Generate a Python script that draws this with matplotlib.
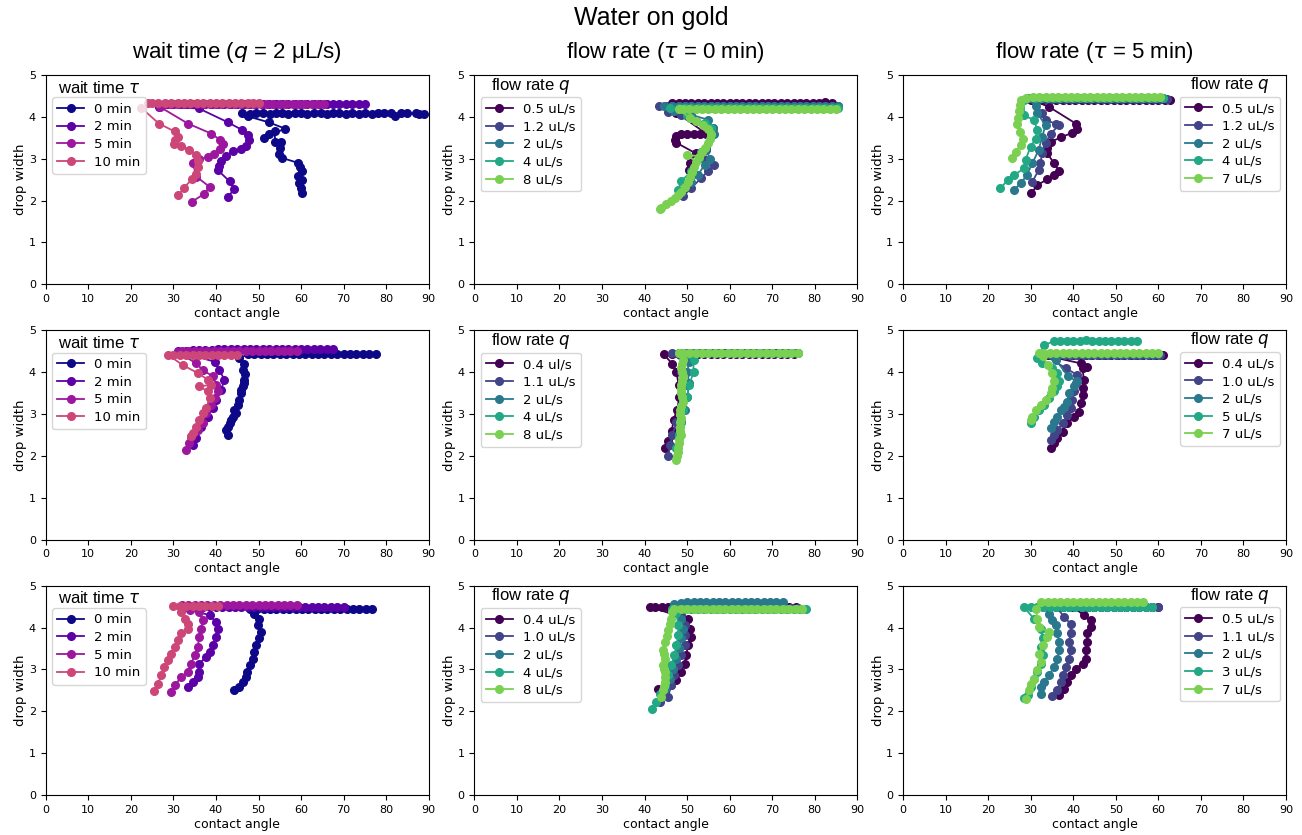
import numpy as np
import matplotlib
matplotlib.use('Agg')
import matplotlib.pyplot as plt
from matplotlib import cm

# contact angle vs drop width traces
# ---------------- row 1 ----------------
wait_labels = ['0 min', '2 min', '5 min', '10 min']

r1_wait_0 = [(88.9, 4.06), (87.6, 4.07), (86.9, 4.08), (85.0, 4.08), (83.5, 4.10), (82.0, 4.02), (81.2, 4.10),
             (79.6, 4.08), (78.0, 4.08), (76.6, 4.07), (75.0, 4.08), (73.6, 4.07), (72.0, 4.08), (70.5, 4.07),
             (69.0, 4.08), (67.6, 4.08), (66.0, 4.07), (64.6, 4.08), (63.0, 4.08), (61.5, 4.07), (60.0, 4.08),
             (58.6, 4.08), (57.0, 4.07), (55.5, 4.08), (54.0, 4.08), (52.6, 4.07), (51.0, 4.08), (49.5, 4.08),
             (48.0, 4.07), (46.2, 4.08), (47.6, 4.01), (52.4, 3.87), (56.2, 3.72), (51.2, 3.49), (52.5, 3.58),
             (53.8, 3.65), (53.9, 3.41), (55.3, 3.39), (55.1, 3.26), (54.7, 3.11), (55.5, 3.02), (59.3, 2.90),
             (59.7, 2.79), (60.3, 2.70), (59.3, 2.59), (60.3, 2.50), (59.4, 2.43), (60.0, 2.31), (60.3, 2.19)]
r1_wait_2 = [(75.0, 4.31), (73.5, 4.31), (72.0, 4.31), (70.5, 4.31), (69.0, 4.31), (67.5, 4.31), (66.0, 4.31),
             (64.5, 4.31), (63.0, 4.31), (61.5, 4.31), (60.0, 4.31), (58.5, 4.31), (57.0, 4.31), (55.5, 4.31),
             (54.0, 4.31), (52.5, 4.31), (51.0, 4.31), (49.5, 4.31), (48.0, 4.30), (46.5, 4.31), (45.0, 4.31),
             (43.5, 4.31), (42.0, 4.31), (40.5, 4.31), (39.0, 4.30), (37.5, 4.31), (36.0, 4.31), (34.5, 4.31),
             (33.0, 4.31), (31.5, 4.31), (30.0, 4.31), (28.5, 4.30), (26.6, 4.24), (36.0, 4.20), (42.8, 3.87),
             (46.1, 3.69), (47.5, 3.56), (47.7, 3.44), (47.1, 3.31), (45.9, 3.23), (43.9, 3.18), (42.4, 3.07),
             (41.2, 2.95), (40.7, 2.83), (40.4, 2.73), (43.2, 2.46), (44.3, 2.27), (42.8, 2.09)]
r1_wait_5 = [(65.5, 4.31), (64.0, 4.31), (62.5, 4.31), (61.0, 4.31), (59.5, 4.31), (58.0, 4.31), (56.5, 4.31),
             (55.0, 4.31), (53.5, 4.31), (52.0, 4.31), (50.5, 4.31), (49.0, 4.31), (47.5, 4.31), (46.0, 4.30),
             (44.5, 4.31), (43.0, 4.31), (41.5, 4.31), (40.0, 4.31), (38.5, 4.31), (37.0, 4.31), (35.5, 4.31),
             (34.0, 4.30), (32.5, 4.31), (31.0, 4.31), (29.5, 4.31), (28.0, 4.31), (26.8, 4.24), (33.4, 3.84),
             (38.9, 3.60), (41.0, 3.45), (41.6, 3.35), (41.0, 3.23), (39.6, 3.11), (38.1, 3.03), (36.0, 2.99),
             (34.6, 2.89), (35.4, 2.57), (38.5, 2.33), (37.1, 2.15), (34.3, 1.97)]
r1_wait_10 = [(50.0, 4.34), (48.8, 4.33), (47.5, 4.34), (46.0, 4.33), (44.5, 4.33), (43.0, 4.33), (41.5, 4.34),
              (40.0, 4.33), (38.5, 4.33), (37.0, 4.33), (35.5, 4.33), (34.0, 4.33), (32.5, 4.33), (31.0, 4.33),
              (29.5, 4.33), (28.0, 4.33), (26.5, 4.33), (25.0, 4.33), (24.0, 4.33), (22.5, 4.21), (26.6, 3.84),
              (30.3, 3.65), (31.1, 3.53), (30.4, 3.44), (30.1, 3.34), (31.8, 3.31), (33.6, 3.21), (35.2, 3.10),
              (35.8, 2.95), (35.9, 2.81), (35.4, 2.63), (34.4, 2.51), (32.5, 2.31), (31.2, 2.13)]

r1_flow0_labels = ['0.5 uL/s', '1.2 uL/s', '2 uL/s', '4 uL/s', '8 uL/s']
r1_flow0_05 = [(84.0, 4.33), (82.5, 4.35), (81.0, 4.33), (79.5, 4.33), (78.0, 4.33), (76.5, 4.33), (75.0, 4.33),
               (73.5, 4.33), (72.0, 4.33), (70.5, 4.33), (69.0, 4.33), (67.5, 4.33), (66.0, 4.33), (64.5, 4.33),
               (63.0, 4.33), (61.5, 4.33), (60.0, 4.33), (58.5, 4.33), (57.0, 4.33), (55.5, 4.33), (54.0, 4.33),
               (52.5, 4.33), (51.0, 4.33), (49.5, 4.33), (48.0, 4.33), (46.5, 4.33), (47.5, 4.10), (54.5, 3.60),
               (53.0, 3.60), (51.5, 3.60), (50.0, 3.60), (48.5, 3.60), (47.5, 3.55), (47.2, 3.45), (47.5, 3.38),
               (52.0, 3.13), (50.6, 2.90), (51.0, 2.80), (50.4, 2.72)]
r1_flow0_12 = [(85.5, 4.27), (84.0, 4.27), (82.5, 4.27), (81.0, 4.27), (79.5, 4.27), (78.0, 4.27), (76.5, 4.27),
               (75.0, 4.27), (73.5, 4.27), (72.0, 4.27), (70.5, 4.27), (69.0, 4.27), (67.5, 4.27), (66.0, 4.27),
               (64.5, 4.27), (63.0, 4.27), (61.5, 4.27), (60.0, 4.27), (58.5, 4.27), (57.0, 4.27), (55.5, 4.27),
               (54.0, 4.27), (52.5, 4.27), (51.0, 4.27), (49.5, 4.27), (48.0, 4.27), (46.5, 4.27), (45.0, 4.27),
               (43.5, 4.27), (45.5, 4.12), (48.5, 4.05), (52.0, 3.90), (56.0, 3.73), (56.0, 3.61), (54.5, 3.21),
               (54.0, 3.00), (56.4, 2.86), (54.9, 2.70), (53.3, 2.54), (51.0, 2.30), (49.0, 2.10)]
r1_flow0_2 = [(85.5, 4.25), (84.0, 4.25), (82.5, 4.25), (81.0, 4.25), (79.5, 4.25), (78.0, 4.25), (76.5, 4.25),
              (75.0, 4.25), (73.5, 4.25), (72.0, 4.25), (70.5, 4.25), (69.0, 4.25), (67.5, 4.25), (66.0, 4.25),
              (64.5, 4.25), (63.0, 4.25), (61.5, 4.25), (60.0, 4.25), (58.5, 4.25), (57.0, 4.25), (55.5, 4.25),
              (54.0, 4.25), (52.5, 4.25), (51.0, 4.25), (49.5, 4.25), (48.0, 4.25), (46.5, 4.25), (44.5, 4.25),
              (47.0, 4.15), (51.0, 4.05), (54.9, 3.93), (56.0, 3.73), (56.3, 3.60), (54.5, 3.25), (55.3, 3.00),
              (54.1, 2.85), (52.5, 2.61), (51.0, 2.45), (48.6, 2.22)]
r1_flow0_4 = [(85.5, 4.22), (84.0, 4.22), (82.5, 4.22), (81.0, 4.22), (79.5, 4.22), (78.0, 4.22), (76.5, 4.22),
              (75.0, 4.22), (73.5, 4.22), (72.0, 4.22), (70.5, 4.22), (69.0, 4.22), (67.5, 4.22), (66.0, 4.22),
              (64.5, 4.22), (63.0, 4.22), (61.5, 4.22), (60.0, 4.22), (58.5, 4.22), (57.0, 4.22), (55.5, 4.22),
              (54.0, 4.22), (52.5, 4.22), (51.0, 4.22), (49.5, 4.22), (48.0, 4.22), (46.0, 4.22), (50.0, 4.05),
              (54.1, 3.85), (55.7, 3.73), (55.7, 3.57), (53.3, 3.17), (52.9, 3.01), (51.0, 2.70), (48.6, 2.46),
              (47.9, 2.26)]
r1_flow0_8 = [(85.0, 4.19), (83.5, 4.19), (82.0, 4.19), (80.5, 4.19), (79.0, 4.19), (77.5, 4.19), (76.0, 4.19),
              (74.5, 4.19), (73.0, 4.19), (71.5, 4.19), (70.0, 4.19), (68.5, 4.19), (67.0, 4.19), (65.5, 4.19),
              (64.0, 4.19), (62.5, 4.19), (61.0, 4.19), (59.5, 4.19), (58.0, 4.19), (56.5, 4.19), (55.0, 4.19),
              (53.5, 4.19), (52.0, 4.19), (50.5, 4.19), (49.0, 4.19), (48.0, 4.19), (50.6, 3.98), (52.2, 3.90),
              (53.8, 3.80), (55.0, 3.72), (55.6, 3.60), (55.4, 3.48), (54.8, 3.37), (54.1, 3.26), (53.5, 3.15),
              (52.9, 3.05), (50.0, 3.10), (52.1, 2.92), (51.7, 2.80), (51.2, 2.69), (50.7, 2.57), (50.2, 2.45),
              (49.4, 2.33), (48.6, 2.21), (47.9, 2.13), (47.1, 2.06), (46.1, 2.00), (45.1, 1.92), (43.9, 1.83),
              (43.6, 1.79)]

r1_flow5_labels = ['0.5 uL/s', '1.2 uL/s', '2 uL/s', '4 uL/s', '7 uL/s']
r1_flow5_05 = [(62.8, 4.41), (61.5, 4.41), (60.0, 4.41), (58.5, 4.41), (57.0, 4.41), (55.5, 4.41), (54.0, 4.41),
               (52.5, 4.41), (51.0, 4.41), (49.5, 4.41), (48.0, 4.41), (46.5, 4.41), (45.0, 4.41), (43.5, 4.41),
               (42.0, 4.41), (40.5, 4.41), (39.0, 4.41), (37.5, 4.41), (36.0, 4.41), (34.5, 4.41), (33.0, 4.41),
               (31.5, 4.41), (30.0, 4.41), (34.3, 4.24), (40.6, 3.84), (41.0, 3.72), (39.8, 3.62), (37.1, 3.51),
               (34.7, 3.40), (33.9, 3.25), (33.9, 3.13), (35.5, 2.89), (36.7, 2.71), (35.5, 2.61), (33.9, 2.51),
               (31.6, 2.37), (30.1, 2.17)]
r1_flow5_12 = [(62.0, 4.43), (60.5, 4.43), (59.0, 4.43), (57.5, 4.43), (56.0, 4.43), (54.5, 4.43), (53.0, 4.43),
               (51.5, 4.43), (50.0, 4.43), (48.5, 4.43), (47.0, 4.43), (45.5, 4.43), (44.0, 4.43), (42.5, 4.43),
               (41.0, 4.43), (39.5, 4.43), (38.0, 4.43), (36.5, 4.43), (35.0, 4.43), (33.5, 4.43), (32.0, 4.43),
               (30.5, 4.43), (32.7, 4.08), (33.5, 3.92), (35.9, 3.84), (36.7, 3.80), (34.7, 3.60), (33.5, 3.37),
               (32.7, 3.13), (32.3, 2.89), (31.9, 2.73), (30.4, 2.45)]
r1_flow5_2 = [(61.0, 4.44), (59.5, 4.44), (58.0, 4.44), (56.5, 4.44), (55.0, 4.44), (53.5, 4.44), (52.0, 4.44),
              (50.5, 4.44), (49.0, 4.44), (47.5, 4.44), (46.0, 4.44), (44.5, 4.44), (43.0, 4.44), (41.5, 4.44),
              (40.0, 4.44), (38.5, 4.44), (37.0, 4.44), (35.5, 4.44), (34.0, 4.44), (32.5, 4.44), (31.0, 4.44),
              (29.5, 4.44), (31.2, 4.26), (31.6, 4.08), (33.5, 3.80), (32.7, 3.52), (31.9, 3.21), (30.4, 2.89),
              (29.1, 2.61), (27.7, 2.41), (26.0, 2.25)]
r1_flow5_4 = [(61.0, 4.44), (59.5, 4.44), (58.0, 4.44), (56.5, 4.44), (55.0, 4.44), (53.5, 4.44), (52.0, 4.44),
              (50.5, 4.44), (49.0, 4.44), (47.5, 4.44), (46.0, 4.44), (44.5, 4.44), (43.0, 4.44), (41.5, 4.44),
              (40.0, 4.44), (38.5, 4.44), (37.0, 4.44), (35.5, 4.44), (34.0, 4.44), (32.5, 4.44), (31.0, 4.44),
              (29.5, 4.44), (28.5, 4.40), (28.4, 4.04), (30.8, 3.92), (31.6, 3.68), (31.2, 3.48), (30.0, 3.29),
              (28.8, 2.97), (28.5, 2.77), (26.1, 2.61), (24.6, 2.49), (22.9, 2.29)]
r1_flow5_7 = [(60.5, 4.47), (59.0, 4.47), (57.5, 4.48), (56.0, 4.47), (54.5, 4.47), (53.0, 4.47), (51.5, 4.47),
              (50.0, 4.47), (48.5, 4.48), (47.0, 4.47), (45.5, 4.47), (44.0, 4.47), (42.5, 4.47), (41.0, 4.47),
              (39.5, 4.47), (38.0, 4.47), (36.5, 4.47), (35.0, 4.47), (33.5, 4.47), (32.0, 4.47), (30.5, 4.47),
              (29.0, 4.46), (27.8, 4.40), (27.4, 4.28), (27.3, 4.14), (27.0, 3.98), (26.9, 3.84), (27.5, 3.64),
              (28.1, 3.48), (27.7, 3.33), (26.5, 3.17), (25.7, 3.01)]

# ---------------- row 2 ----------------
r2_wait_0 = [(77.5, 4.43), (76.0, 4.43), (74.5, 4.43), (73.0, 4.43), (71.5, 4.43), (70.0, 4.43), (68.5, 4.43),
             (67.0, 4.43), (65.5, 4.43), (64.0, 4.43), (62.5, 4.43), (61.0, 4.43), (59.5, 4.43), (58.0, 4.43),
             (56.5, 4.43), (55.0, 4.43), (53.5, 4.43), (52.0, 4.43), (50.5, 4.43), (49.0, 4.43), (47.5, 4.43),
             (45.5, 4.33), (46.6, 4.20), (46.3, 4.05), (46.8, 3.95), (46.7, 3.82), (46.5, 3.75), (46.3, 3.66),
             (46.0, 3.58), (45.9, 3.50), (45.5, 3.34), (45.2, 3.22), (44.3, 3.10), (44.6, 3.02), (43.9, 2.94),
             (43.6, 2.86), (43.2, 2.78), (42.8, 2.70), (42.4, 2.62), (42.8, 2.50)]
r2_wait_2 = [(67.5, 4.55), (66.0, 4.55), (64.5, 4.55), (63.0, 4.55), (61.5, 4.55), (60.0, 4.55), (58.5, 4.55),
             (57.0, 4.55), (55.5, 4.55), (54.0, 4.55), (52.5, 4.55), (51.0, 4.55), (49.5, 4.55), (48.0, 4.55),
             (46.5, 4.55), (45.0, 4.55), (43.5, 4.55), (42.0, 4.55), (40.5, 4.55), (39.0, 4.54), (37.5, 4.54),
             (36.0, 4.53), (34.5, 4.52), (33.0, 4.51), (31.0, 4.50), (39.7, 4.25), (40.8, 4.05), (42.0, 3.82),
             (41.2, 3.58), (40.1, 3.34), (39.3, 3.14), (38.1, 2.94), (36.5, 2.70), (35.4, 2.42), (34.6, 2.27)]
r2_wait_5 = [(59.0, 4.50), (57.5, 4.50), (56.0, 4.50), (54.5, 4.50), (53.0, 4.50), (51.5, 4.50), (50.0, 4.50),
             (48.5, 4.50), (47.0, 4.50), (45.5, 4.50), (44.0, 4.50), (42.5, 4.50), (41.0, 4.50), (39.5, 4.50),
             (38.0, 4.50), (36.5, 4.50), (35.0, 4.50), (33.5, 4.50), (32.0, 4.50), (31.0, 4.48), (35.4, 4.21),
             (36.9, 4.05), (39.3, 3.90), (40.1, 3.70), (40.5, 3.54), (39.7, 3.38), (38.9, 3.22), (37.7, 3.02),
             (36.9, 2.78), (35.7, 2.62), (34.2, 2.46), (33.6, 2.31), (33.0, 2.13)]
r2_wait_10 = [(45.0, 4.42), (43.5, 4.42), (42.0, 4.42), (40.5, 4.42), (39.0, 4.42), (37.5, 4.42), (36.0, 4.42),
              (34.5, 4.42), (33.0, 4.42), (31.5, 4.42), (30.0, 4.42), (28.7, 4.42), (32.2, 4.17), (35.9, 3.97),
              (38.1, 3.82), (38.9, 3.70), (36.1, 3.66), (38.1, 3.54), (38.5, 3.38), (37.7, 3.14), (36.9, 3.02),
              (36.1, 2.86), (35.4, 2.70), (34.6, 2.54), (34.2, 2.48)]

r2_flow0_labels = ['0.4 ul/s', '1.1 uL/s', '2 uL/s', '4 uL/s', '8 uL/s']
r2_flow0_04 = [(75.0, 4.43), (73.5, 4.43), (72.0, 4.43), (70.5, 4.43), (69.0, 4.43), (67.5, 4.43), (66.0, 4.43),
               (64.5, 4.43), (63.0, 4.43), (61.5, 4.43), (60.0, 4.43), (58.5, 4.43), (57.0, 4.43), (55.5, 4.43),
               (54.0, 4.43), (52.5, 4.43), (51.0, 4.43), (49.5, 4.43), (48.0, 4.43), (46.5, 4.43), (44.5, 4.43),
               (46.5, 4.20), (47.5, 4.00), (48.0, 3.70), (48.2, 3.40), (47.6, 3.10), (46.8, 2.85), (46.4, 2.60),
               (45.5, 2.35), (44.7, 2.20)]
r2_flow0_11 = [(75.5, 4.45), (74.0, 4.45), (72.5, 4.45), (71.0, 4.45), (69.5, 4.45), (68.0, 4.45), (66.5, 4.45),
               (65.0, 4.45), (63.5, 4.45), (62.0, 4.45), (60.5, 4.45), (59.0, 4.45), (57.5, 4.45), (56.0, 4.45),
               (54.5, 4.45), (53.0, 4.45), (51.5, 4.45), (50.0, 4.45), (48.5, 4.45), (46.5, 4.45), (49.0, 4.25),
               (48.5, 4.00), (49.5, 3.70), (49.3, 3.40), (48.5, 3.10), (47.5, 2.80), (46.5, 2.50), (46.0, 2.25),
               (45.6, 2.00)]
r2_flow0_2 = [(76.0, 4.46), (74.5, 4.46), (73.0, 4.46), (71.5, 4.46), (70.0, 4.46), (68.5, 4.46), (67.0, 4.46),
              (65.5, 4.46), (64.0, 4.46), (62.5, 4.46), (61.0, 4.46), (59.5, 4.46), (58.0, 4.46), (56.5, 4.46),
              (55.0, 4.46), (53.5, 4.46), (52.0, 4.46), (50.5, 4.46), (49.0, 4.46), (48.0, 4.46), (50.5, 4.25),
              (50.0, 4.00), (50.5, 3.75), (50.0, 3.40), (49.5, 3.10), (48.5, 2.80), (48.0, 2.50), (47.5, 2.20)]
r2_flow0_4 = [(76.0, 4.45), (74.5, 4.45), (73.0, 4.45), (71.5, 4.45), (70.0, 4.45), (68.5, 4.45), (67.0, 4.45),
              (65.5, 4.45), (64.0, 4.45), (62.5, 4.45), (61.0, 4.45), (59.5, 4.45), (58.0, 4.45), (56.5, 4.45),
              (55.0, 4.45), (53.5, 4.45), (52.0, 4.45), (50.5, 4.45), (49.0, 4.45), (48.0, 4.45), (51.5, 4.30),
              (51.5, 4.00), (50.5, 3.70), (50.0, 3.40), (49.0, 3.10), (48.5, 2.80), (48.0, 2.50), (47.5, 2.20)]
r2_flow0_8 = [(76.0, 4.45), (74.5, 4.45), (73.0, 4.45), (71.5, 4.45), (70.0, 4.45), (68.5, 4.45), (67.0, 4.45),
              (65.5, 4.45), (64.0, 4.45), (62.5, 4.45), (61.0, 4.45), (59.5, 4.45), (58.0, 4.45), (56.5, 4.45),
              (55.0, 4.45), (53.5, 4.45), (52.0, 4.45), (50.5, 4.45), (49.0, 4.45), (48.0, 4.45), (49.0, 4.30),
              (48.8, 4.20), (48.5, 4.10), (48.7, 4.00), (49.0, 3.90), (48.8, 3.80), (48.5, 3.70), (48.6, 3.60),
              (48.5, 3.50), (48.8, 3.40), (49.0, 3.30), (48.6, 3.20), (48.3, 3.10), (48.4, 3.00), (48.5, 2.90),
              (48.4, 2.80), (48.3, 2.70), (48.4, 2.60), (48.5, 2.50), (48.2, 2.40), (48.0, 2.30), (47.9, 2.20),
              (47.8, 2.10), (47.6, 2.00), (47.3, 1.90)]

r2_flow5_labels = ['0.4 uL/s', '1.0 uL/s', '2 uL/s', '5 uL/s', '7 uL/s']
r2_flow5_04 = [(61.0, 4.41), (59.5, 4.41), (58.0, 4.41), (56.5, 4.41), (55.0, 4.41), (53.5, 4.41), (52.0, 4.41),
               (50.5, 4.41), (49.0, 4.41), (47.5, 4.41), (46.0, 4.41), (44.5, 4.41), (43.0, 4.41), (41.5, 4.41),
               (40.0, 4.41), (38.5, 4.41), (37.0, 4.41), (35.5, 4.41), (34.0, 4.41), (33.0, 4.41), (41.8, 4.21),
               (43.3, 4.13), (42.2, 4.09), (42.5, 3.82), (42.4, 3.62), (42.4, 3.46), (41.8, 3.26), (41.4, 3.06),
               (40.2, 2.94), (38.6, 2.78), (37.5, 2.58), (36.3, 2.42), (35.5, 2.32), (34.7, 2.19)]
r2_flow5_10 = [(60.5, 4.42), (59.0, 4.42), (57.5, 4.42), (56.0, 4.42), (54.5, 4.42), (53.0, 4.42), (51.5, 4.42),
               (50.0, 4.42), (48.5, 4.42), (47.0, 4.42), (45.5, 4.42), (44.0, 4.42), (42.5, 4.42), (41.0, 4.42),
               (39.5, 4.42), (38.0, 4.42), (36.5, 4.42), (35.0, 4.42), (33.0, 4.42), (38.2, 4.10), (41.0, 3.93),
               (40.6, 3.74), (40.2, 3.54), (39.8, 3.34), (39.4, 3.14), (38.6, 2.98), (37.5, 2.78), (36.3, 2.62),
               (35.5, 2.50), (34.7, 2.38)]
r2_flow5_2 = [(60.0, 4.43), (58.5, 4.43), (57.0, 4.43), (55.5, 4.43), (54.0, 4.43), (52.5, 4.43), (51.0, 4.43),
              (49.5, 4.43), (48.0, 4.43), (46.5, 4.43), (45.0, 4.43), (43.5, 4.43), (42.0, 4.43), (40.5, 4.43),
              (39.0, 4.43), (37.5, 4.43), (36.0, 4.43), (34.5, 4.43), (33.0, 4.43), (35.9, 4.30), (38.8, 3.90),
              (40.9, 3.78), (40.2, 3.66), (39.0, 3.50), (38.6, 3.30), (37.9, 3.18), (37.1, 3.10), (36.3, 2.94),
              (35.5, 2.82), (34.7, 2.66)]
r2_flow5_5 = [(55.0, 4.75), (53.5, 4.75), (52.0, 4.75), (50.5, 4.75), (49.0, 4.75), (47.5, 4.75), (46.0, 4.75),
              (44.5, 4.75), (43.0, 4.76), (41.5, 4.75), (40.0, 4.75), (38.5, 4.75), (37.0, 4.74), (35.5, 4.74),
              (33.2, 4.65), (31.6, 4.33), (32.7, 4.21), (35.1, 4.09), (36.3, 3.98), (36.7, 3.78), (36.3, 3.66),
              (35.5, 3.54), (34.3, 3.38), (33.2, 3.22), (32.0, 3.10), (30.8, 2.94), (30.1, 2.78)]
r2_flow5_7 = [(60.0, 4.47), (58.5, 4.47), (57.0, 4.47), (55.5, 4.47), (54.0, 4.47), (52.5, 4.47), (51.0, 4.47),
              (49.5, 4.47), (48.0, 4.47), (46.5, 4.47), (45.0, 4.47), (43.5, 4.47), (42.0, 4.47), (40.5, 4.47),
              (39.0, 4.47), (37.5, 4.47), (36.0, 4.47), (34.5, 4.47), (33.0, 4.47), (32.0, 4.47), (32.8, 4.39),
              (34.0, 4.17), (35.1, 3.98), (35.5, 3.78), (35.1, 3.62), (34.7, 3.50), (33.6, 3.34), (32.4, 3.22),
              (31.2, 3.10), (30.4, 2.94), (30.1, 2.86)]

# ---------------- row 3 ----------------
r3_wait_0 = [(76.7, 4.45), (75.2, 4.45), (73.7, 4.45), (72.2, 4.45), (70.7, 4.45), (69.2, 4.45), (67.7, 4.45),
             (66.2, 4.45), (64.7, 4.45), (63.2, 4.45), (61.7, 4.45), (60.2, 4.45), (58.7, 4.45), (57.2, 4.45),
             (55.7, 4.45), (54.2, 4.45), (52.7, 4.45), (51.2, 4.45), (49.7, 4.45), (48.0, 4.45), (49.0, 4.33),
             (50.2, 4.21), (49.8, 4.05), (50.6, 3.90), (50.2, 3.74), (49.4, 3.58), (49.0, 3.42), (48.6, 3.26),
             (47.9, 3.10), (47.4, 2.94), (47.0, 2.82), (46.3, 2.70), (45.5, 2.58), (44.3, 2.50)]
r3_wait_2 = [(70.0, 4.48), (68.5, 4.48), (67.0, 4.48), (65.5, 4.48), (64.0, 4.48), (62.5, 4.48), (61.0, 4.48),
             (59.5, 4.48), (58.0, 4.48), (56.5, 4.48), (55.0, 4.48), (53.5, 4.48), (52.0, 4.48), (50.5, 4.48),
             (49.0, 4.48), (47.5, 4.48), (46.0, 4.48), (44.5, 4.48), (43.0, 4.48), (41.5, 4.48), (40.0, 4.48),
             (38.5, 4.48), (37.0, 4.48), (35.5, 4.48), (34.0, 4.48), (33.0, 4.48), (38.5, 4.29), (40.0, 4.13),
             (40.4, 3.97), (40.0, 3.78), (39.3, 3.58), (38.5, 3.42), (37.7, 3.30), (36.1, 3.14), (36.1, 2.94),
             (35.7, 2.82), (34.6, 2.70), (33.4, 2.58)]
r3_wait_5 = [(59.0, 4.55), (57.5, 4.55), (56.0, 4.55), (54.5, 4.55), (53.0, 4.55), (51.5, 4.55), (50.0, 4.55),
             (48.5, 4.55), (47.0, 4.55), (45.5, 4.55), (44.0, 4.55), (42.5, 4.55), (41.0, 4.55), (39.5, 4.55),
             (38.0, 4.55), (36.5, 4.55), (35.0, 4.55), (33.5, 4.55), (32.0, 4.55), (33.8, 4.41), (36.1, 4.37),
             (36.9, 4.17), (36.5, 3.97), (36.1, 3.78), (35.7, 3.54), (35.0, 3.34), (34.2, 3.14), (33.4, 2.94),
             (31.9, 2.82), (30.3, 2.62), (29.5, 2.45)]
r3_wait_10 = [(40.5, 4.52), (39.0, 4.52), (37.5, 4.52), (36.0, 4.52), (34.5, 4.52), (33.0, 4.52), (31.5, 4.52),
              (30.0, 4.52), (31.9, 4.37), (32.7, 4.21), (33.4, 4.09), (33.4, 3.97), (31.9, 3.86), (31.1, 3.70),
              (30.3, 3.54), (29.5, 3.38), (28.7, 3.22), (27.9, 3.06), (27.2, 2.86), (26.4, 2.66), (25.4, 2.48)]

r3_flow0_labels = ['0.4 uL/s', '1.0 uL/s', '2 uL/s', '4 uL/s', '8 uL/s']
r3_flow0_04 = [(75.5, 4.49), (74.0, 4.49), (72.5, 4.49), (71.0, 4.49), (69.5, 4.49), (68.0, 4.49), (66.5, 4.49),
               (65.0, 4.49), (63.5, 4.49), (62.0, 4.49), (60.5, 4.49), (59.0, 4.49), (57.5, 4.49), (56.0, 4.49),
               (54.5, 4.49), (53.0, 4.49), (51.5, 4.49), (50.0, 4.49), (48.5, 4.49), (47.0, 4.49), (45.5, 4.49),
               (44.0, 4.49), (42.5, 4.49), (41.2, 4.49), (50.2, 4.21), (50.6, 3.97), (51.0, 3.78), (50.2, 3.58),
               (49.8, 3.34), (49.4, 3.14), (48.6, 2.94), (47.5, 2.74), (46.3, 2.62), (44.7, 2.50), (43.2, 2.54)]
r3_flow0_10 = [(76.0, 4.47), (74.5, 4.47), (73.0, 4.47), (71.5, 4.47), (70.0, 4.47), (68.5, 4.47), (67.0, 4.47),
               (65.5, 4.47), (64.0, 4.47), (62.5, 4.47), (61.0, 4.47), (59.5, 4.47), (58.0, 4.47), (56.5, 4.47),
               (55.0, 4.47), (53.5, 4.47), (52.0, 4.47), (50.5, 4.47), (49.0, 4.47), (47.0, 4.47), (48.6, 4.29),
               (49.4, 4.05), (49.4, 3.82), (49.4, 3.58), (48.6, 3.34), (47.9, 3.10), (47.0, 2.86), (46.3, 2.62),
               (45.5, 2.35), (43.6, 2.23)]
r3_flow0_2 = [(72.5, 4.60), (71.0, 4.60), (69.5, 4.60), (68.0, 4.60), (66.5, 4.60), (65.0, 4.60), (63.5, 4.60),
              (62.0, 4.60), (60.5, 4.60), (59.0, 4.60), (57.5, 4.60), (56.0, 4.60), (54.5, 4.60), (53.0, 4.60),
              (51.5, 4.60), (50.0, 4.60), (48.5, 4.58), (47.0, 4.56), (47.9, 4.45), (48.6, 4.21), (49.0, 3.97),
              (48.6, 3.74), (48.2, 3.50), (47.5, 3.26), (46.7, 3.02), (45.9, 2.78), (44.7, 2.54), (43.9, 2.38)]
r3_flow0_4 = [(78.0, 4.44), (76.5, 4.44), (75.0, 4.44), (73.5, 4.44), (72.0, 4.44), (70.5, 4.44), (69.0, 4.44),
              (67.5, 4.44), (66.0, 4.44), (64.5, 4.44), (63.0, 4.44), (61.5, 4.44), (60.0, 4.44), (58.5, 4.44),
              (57.0, 4.44), (55.5, 4.44), (54.0, 4.44), (52.5, 4.44), (51.0, 4.44), (49.5, 4.44), (48.0, 4.44),
              (46.5, 4.44), (47.5, 4.34), (47.9, 4.05), (47.9, 3.82), (47.5, 3.58), (47.0, 3.34), (46.3, 3.10),
              (45.5, 2.86), (44.7, 2.62), (43.6, 2.42), (42.8, 2.23), (41.8, 2.05)]
r3_flow0_8 = [(77.0, 4.44), (75.5, 4.44), (74.0, 4.44), (72.5, 4.44), (71.0, 4.44), (69.5, 4.44), (68.0, 4.44),
              (66.5, 4.44), (65.0, 4.44), (63.5, 4.44), (62.0, 4.44), (60.5, 4.44), (59.0, 4.44), (57.5, 4.44),
              (56.0, 4.44), (54.5, 4.44), (53.0, 4.44), (51.5, 4.44), (50.0, 4.44), (48.5, 4.44), (47.0, 4.44),
              (46.5, 4.38), (46.3, 4.21), (45.9, 4.08), (45.5, 3.94), (45.2, 3.80), (44.9, 3.66), (44.3, 3.46),
              (44.5, 3.36), (44.7, 3.26), (44.3, 3.10), (44.6, 3.02), (44.9, 2.94), (44.8, 2.82), (44.7, 2.70),
              (44.5, 2.60), (44.3, 2.50), (43.9, 2.35)]

r3_flow5_labels = ['0.5 uL/s', '1.1 uL/s', '2 uL/s', '3 uL/s', '7 uL/s']
r3_flow5_05 = [(60.0, 4.50), (58.5, 4.50), (57.0, 4.50), (55.5, 4.50), (54.0, 4.50), (52.5, 4.50), (51.0, 4.50),
               (49.5, 4.50), (48.0, 4.50), (46.5, 4.50), (45.0, 4.50), (43.5, 4.50), (42.0, 4.50), (40.0, 4.50),
               (42.5, 4.29), (44.1, 4.17), (44.1, 4.01), (43.3, 3.86), (43.3, 3.66), (42.9, 3.46), (42.9, 3.26),
               (42.2, 3.14), (40.6, 3.02), (39.4, 2.86), (38.6, 2.70), (37.9, 2.54), (36.7, 2.40)]
r3_flow5_11 = [(60.0, 4.50), (58.5, 4.50), (57.0, 4.50), (55.5, 4.50), (54.0, 4.50), (52.5, 4.50), (51.0, 4.50),
               (49.5, 4.50), (48.0, 4.50), (46.5, 4.50), (45.0, 4.50), (43.5, 4.50), (42.0, 4.50), (40.5, 4.50),
               (39.0, 4.50), (37.5, 4.50), (36.0, 4.50), (37.9, 4.25), (39.4, 4.09), (39.4, 3.86), (39.0, 3.66),
               (39.4, 3.46), (39.0, 3.26), (38.3, 3.06), (37.5, 2.86), (37.1, 2.70), (36.3, 2.50), (35.1, 2.37)]
r3_flow5_2 = [(58.5, 4.50), (57.0, 4.50), (55.5, 4.50), (54.0, 4.50), (52.5, 4.50), (51.0, 4.50), (49.5, 4.50),
              (48.0, 4.50), (46.5, 4.50), (45.0, 4.50), (43.5, 4.50), (42.0, 4.50), (40.5, 4.50), (39.0, 4.50),
              (37.5, 4.50), (36.0, 4.50), (34.5, 4.50), (33.0, 4.50), (34.3, 4.33), (35.1, 4.17), (35.9, 4.05),
              (36.3, 3.86), (36.7, 3.66), (36.7, 3.46), (36.3, 3.26), (35.5, 3.06), (34.3, 2.86), (33.2, 2.70),
              (32.4, 2.58), (32.4, 2.42)]
r3_flow5_3 = [(58.5, 4.49), (57.0, 4.49), (55.5, 4.49), (54.0, 4.49), (52.5, 4.49), (51.0, 4.49), (49.5, 4.49),
              (48.0, 4.49), (46.5, 4.49), (45.0, 4.49), (43.5, 4.49), (42.0, 4.49), (40.5, 4.49), (39.0, 4.49),
              (37.5, 4.49), (36.0, 4.49), (34.5, 4.49), (33.0, 4.49), (31.5, 4.49), (30.0, 4.49), (28.5, 4.48),
              (30.8, 4.21), (32.4, 3.97), (32.8, 3.74), (32.4, 3.54), (32.8, 3.34), (32.4, 3.14), (31.6, 2.94),
              (30.8, 2.78), (30.1, 2.58), (29.3, 2.38), (28.5, 2.31)]
r3_flow5_7 = [(56.5, 4.60), (55.0, 4.60), (53.5, 4.60), (52.0, 4.60), (50.5, 4.60), (49.0, 4.60), (47.5, 4.60),
              (46.0, 4.60), (44.5, 4.60), (43.0, 4.60), (41.5, 4.60), (40.0, 4.60), (38.5, 4.60), (37.0, 4.60),
              (35.5, 4.60), (34.0, 4.60), (32.5, 4.60), (31.2, 4.45), (31.6, 4.21), (32.0, 4.01), (34.3, 3.90),
              (33.9, 3.78), (32.8, 3.58), (32.0, 3.38), (32.4, 3.18), (31.6, 2.98), (30.8, 2.78), (30.1, 2.66),
              (29.7, 2.50), (28.9, 2.30)]

col_titles = ['wait time ($q$ = 2 μL/s)', 'flow rate ($\\tau$ = 0 min)', 'flow rate ($\\tau$ = 5 min)']

panels = [
    [(wait_labels, [r1_wait_0, r1_wait_2, r1_wait_5, r1_wait_10]),
     (r1_flow0_labels, [r1_flow0_05, r1_flow0_12, r1_flow0_2, r1_flow0_4, r1_flow0_8]),
     (r1_flow5_labels, [r1_flow5_05, r1_flow5_12, r1_flow5_2, r1_flow5_4, r1_flow5_7])],
    [(wait_labels, [r2_wait_0, r2_wait_2, r2_wait_5, r2_wait_10]),
     (r2_flow0_labels, [r2_flow0_04, r2_flow0_11, r2_flow0_2, r2_flow0_4, r2_flow0_8]),
     (r2_flow5_labels, [r2_flow5_04, r2_flow5_10, r2_flow5_2, r2_flow5_5, r2_flow5_7])],
    [(wait_labels, [r3_wait_0, r3_wait_2, r3_wait_5, r3_wait_10]),
     (r3_flow0_labels, [r3_flow0_04, r3_flow0_10, r3_flow0_2, r3_flow0_4, r3_flow0_8]),
     (r3_flow5_labels, [r3_flow5_05, r3_flow5_11, r3_flow5_2, r3_flow5_3, r3_flow5_7])],
]

TFONT = 'Liberation Sans'

fig, axes = plt.subplots(3, 3, figsize=(13.02, 8.35), dpi=100)
fig.subplots_adjust(left=0.0351, right=0.9877, bottom=0.0479, top=0.9102, wspace=0.119, hspace=0.22)
fig.suptitle('Water on gold', fontsize=18, fontname=TFONT, y=0.978, va='center')

legends = []
for i in range(3):
    for j in range(3):
        ax = axes[i, j]
        labels, series = panels[i][j]
        if j == 0:
            cols = cm.plasma(np.arange(len(series)) / 6.0)
            ltitle = 'wait time $\\tau$'
        else:
            cols = cm.viridis(np.arange(len(series)) / 5.0)
            ltitle = 'flow rate $q$'
        for s, lab, c in zip(series, labels, cols):
            ang, wid = zip(*s)
            ax.plot(ang, wid, '-o', color=c, ms=5.5, lw=1.3, label=lab)
        ax.set_xlim(0, 90)
        ax.set_ylim(0, 5)
        ax.set_xticks(np.arange(0, 91, 10))
        ax.set_yticks(np.arange(0, 6, 1))
        ax.tick_params(labelsize=8)
        ax.set_xlabel('contact angle', fontsize=9, labelpad=2)
        ax.set_ylabel('drop width', fontsize=9.5, labelpad=1)
        if i == 0:
            ax.set_title(col_titles[j], fontsize=16, fontname=TFONT, pad=12.5)
        if j == 2:
            leg = ax.legend(loc='upper right', bbox_to_anchor=(0.984, 0.896), borderaxespad=0,
                            fontsize=9.5, labelspacing=0.35)
        else:
            leg = ax.legend(loc='upper left', bbox_to_anchor=(0.017, 0.893), borderaxespad=0,
                            fontsize=9.5, labelspacing=0.35)
        legends.append((ax, leg, ltitle))

# legend titles sit above the legend frame
fig.canvas.draw()
renderer = fig.canvas.get_renderer()
for ax, leg, ltitle in legends:
    bb = leg.get_frame().get_window_extent(renderer)
    inv = ax.transAxes.inverted()
    (x0, y0), (x1, y1) = inv.transform([[bb.x0, bb.y0], [bb.x1, bb.y1]])
    ax.text((x0 + x1) / 2, y1 + 0.008, ltitle, transform=ax.transAxes, ha='center', va='bottom',
            fontsize=12, fontname=TFONT)

plt.savefig('out.png', dpi=100)
